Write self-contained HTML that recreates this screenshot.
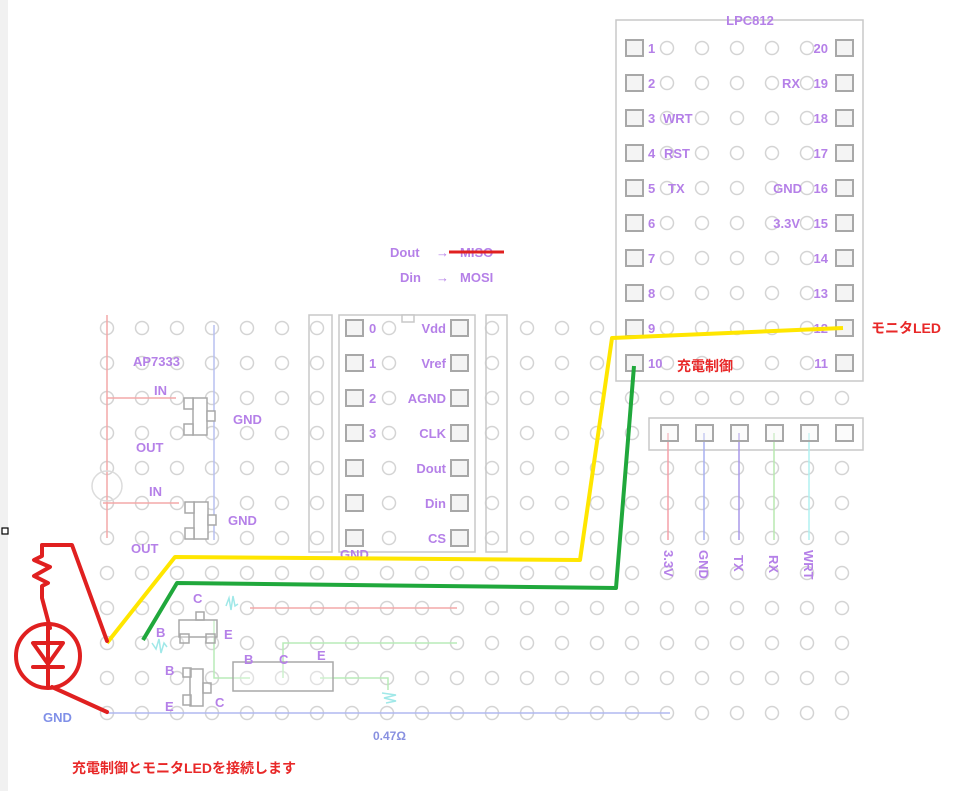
<!DOCTYPE html>
<html><head><meta charset="utf-8"><style>
html,body{margin:0;padding:0;background:#fff;}
svg{display:block;}
text{font-family:"Liberation Sans","Noto Sans CJK JP",sans-serif;}
.p{fill:#b580e8;font-weight:bold;font-size:13px;}
.r{fill:#e82828;font-weight:bold;font-size:14px;}
</style></head><body>
<svg width="980" height="791" viewBox="0 0 980 791" xmlns="http://www.w3.org/2000/svg">
<defs>
<pattern id="holes" patternUnits="userSpaceOnUse" x="89.5" y="310.5" width="35" height="35">
<circle cx="17.5" cy="17.5" r="6.5" fill="none" stroke="#d4d4d4" stroke-width="1.5"/>
</pattern>
</defs>
<rect x="0" y="0" width="8" height="791" fill="#f1f1f1"/>
<rect x="2" y="528" width="6" height="6" fill="#fff" stroke="#000" stroke-width="1.2"/>
<rect x="89.5" y="310.5" width="770" height="420" fill="url(#holes)"/>
<rect x="616" y="305" width="250" height="77" fill="#fff"/>
<rect x="338" y="305" width="138" height="248" fill="#fff"/>
<rect x="649" y="414" width="216" height="38" fill="#fff"/>
<rect x="651.5" y="30.5" width="175" height="350" fill="url(#holes)"/>
<g fill="none" stroke="#d4d4d4" stroke-width="1.5">
<circle cx="389" cy="328" r="6.5"/><circle cx="389" cy="363" r="6.5"/><circle cx="389" cy="398" r="6.5"/><circle cx="389" cy="433" r="6.5"/><circle cx="389" cy="468" r="6.5"/><circle cx="389" cy="503" r="6.5"/><circle cx="389" cy="538" r="6.5"/>
</g>
<!-- AP7333 area -->
<line x1="107" y1="315" x2="107" y2="538" stroke="#f4a8a8" stroke-width="1.5"/>
<line x1="107" y1="398" x2="176" y2="398" stroke="#f4a8a8" stroke-width="1.5"/>
<line x1="103" y1="503" x2="179" y2="503" stroke="#f4a8a8" stroke-width="1.5"/>
<line x1="214" y1="325" x2="214" y2="540" stroke="#b8c0f0" stroke-width="1.5"/>
<circle cx="107" cy="486" r="15" fill="none" stroke="#dcdcdc" stroke-width="1.5"/>
<g fill="#fff" stroke="#a8a8a8" stroke-width="1.5">
<rect x="193" y="398" width="14" height="37"/><rect x="184" y="398" width="9" height="11"/><rect x="184" y="424" width="9" height="11"/><rect x="207" y="411" width="8" height="10"/>
<rect x="194" y="502" width="14" height="37"/><rect x="185" y="502" width="9" height="11"/><rect x="185" y="528" width="9" height="11"/><rect x="208" y="515" width="8" height="10"/>
</g>
<text class="p" x="133" y="366">AP7333</text>
<text class="p" x="154" y="395">IN</text>
<text class="p" x="136" y="452">OUT</text>
<text class="p" x="233" y="424">GND</text>
<text class="p" x="149" y="496">IN</text>
<text class="p" x="131" y="553">OUT</text>
<text class="p" x="228" y="525">GND</text>
<!-- ADC chip -->
<g fill="none" stroke="#c8c8c8" stroke-width="1.5">
<rect x="309" y="315" width="23" height="237"/><rect x="486" y="315" width="21" height="237"/>
<rect x="339" y="315" width="136" height="237"/><rect x="402" y="315" width="12" height="7" fill="#fff"/>
</g>
<g fill="#f4f4f4" stroke="#a8a8a8" stroke-width="2">
<rect x="346" y="320" width="17" height="16"/><rect x="346" y="355" width="17" height="16"/><rect x="346" y="390" width="17" height="16"/><rect x="346" y="425" width="17" height="16"/><rect x="346" y="460" width="17" height="16"/><rect x="346" y="495" width="17" height="16"/><rect x="346" y="530" width="17" height="16"/>
<rect x="451" y="320" width="17" height="16"/><rect x="451" y="355" width="17" height="16"/><rect x="451" y="390" width="17" height="16"/><rect x="451" y="425" width="17" height="16"/><rect x="451" y="460" width="17" height="16"/><rect x="451" y="495" width="17" height="16"/><rect x="451" y="530" width="17" height="16"/>
</g>
<text class="p" x="369" y="333">0</text><text class="p" x="369" y="368">1</text><text class="p" x="369" y="403">2</text><text class="p" x="369" y="438">3</text>
<g class="p" text-anchor="end"><text x="446" y="333">Vdd</text><text x="446" y="368">Vref</text><text x="446" y="403">AGND</text><text x="446" y="438">CLK</text><text x="446" y="473">Dout</text><text x="446" y="508">Din</text><text x="446" y="543">CS</text></g>
<text class="p" x="340" y="559">GND</text>
<text class="p" x="390" y="257">Dout</text><text class="p" x="436" y="257">→</text><text class="p" x="460" y="257">MISO</text>
<text class="p" x="400" y="282">Din</text><text class="p" x="436" y="282">→</text><text class="p" x="460" y="282">MOSI</text>
<line x1="449" y1="252" x2="504" y2="252" stroke="#e02020" stroke-width="3"/>
<!-- LPC812 -->
<rect x="616" y="20" width="247" height="361" fill="none" stroke="#c8c8c8" stroke-width="1.5"/>
<text class="p" x="750" y="25" text-anchor="middle" font-weight="normal">LPC812</text>
<g fill="#f4f4f4" stroke="#a8a8a8" stroke-width="2">
<rect x="626" y="40" width="17" height="16"/><rect x="626" y="75" width="17" height="16"/><rect x="626" y="110" width="17" height="16"/><rect x="626" y="145" width="17" height="16"/><rect x="626" y="180" width="17" height="16"/><rect x="626" y="215" width="17" height="16"/><rect x="626" y="250" width="17" height="16"/><rect x="626" y="285" width="17" height="16"/><rect x="626" y="320" width="17" height="16"/><rect x="626" y="355" width="17" height="16"/>
<rect x="836" y="40" width="17" height="16"/><rect x="836" y="75" width="17" height="16"/><rect x="836" y="110" width="17" height="16"/><rect x="836" y="145" width="17" height="16"/><rect x="836" y="180" width="17" height="16"/><rect x="836" y="215" width="17" height="16"/><rect x="836" y="250" width="17" height="16"/><rect x="836" y="285" width="17" height="16"/><rect x="836" y="320" width="17" height="16"/><rect x="836" y="355" width="17" height="16"/>
</g>
<g class="p"><text x="648" y="53">1</text><text x="648" y="88">2</text><text x="648" y="123">3</text><text x="648" y="158">4</text><text x="648" y="193">5</text><text x="648" y="228">6</text><text x="648" y="263">7</text><text x="648" y="298">8</text><text x="648" y="333">9</text><text x="648" y="368">10</text>
<text x="663" y="123">WRT</text><text x="664" y="158">RST</text><text x="668" y="193">TX</text>
</g>
<g class="p" text-anchor="end"><text x="828" y="53">20</text><text x="828" y="88">19</text><text x="828" y="123">18</text><text x="828" y="158">17</text><text x="828" y="193">16</text><text x="828" y="228">15</text><text x="828" y="263">14</text><text x="828" y="298">13</text><text x="828" y="333">12</text><text x="828" y="368">11</text>
<text x="800" y="88">RX</text><text x="802" y="193">GND</text><text x="800" y="228">3.3V</text></g>
<!-- header -->
<rect x="649" y="418" width="214" height="32" fill="none" stroke="#c8c8c8" stroke-width="1.5"/>
<line x1="668" y1="433" x2="668" y2="540" stroke="#f4a0a8" stroke-width="1.5"/>
<line x1="704" y1="433" x2="704" y2="540" stroke="#a8b0f0" stroke-width="1.5"/>
<line x1="739" y1="433" x2="739" y2="540" stroke="#a898e8" stroke-width="1.5"/>
<line x1="774" y1="433" x2="774" y2="540" stroke="#b8e8b0" stroke-width="1.5"/>
<line x1="809" y1="433" x2="809" y2="540" stroke="#b0f0f0" stroke-width="1.5"/>
<g fill="#f4f4f4" fill-opacity="0.4" stroke="#a8a8a8" stroke-width="2">
<rect x="661" y="425" width="17" height="16"/><rect x="696" y="425" width="17" height="16"/><rect x="731" y="425" width="17" height="16"/><rect x="766" y="425" width="17" height="16"/><rect x="801" y="425" width="17" height="16"/><rect x="836" y="425" width="17" height="16"/>
</g>
<g class="p" font-size="12"><text transform="translate(664,550) rotate(90)">3.3V</text><text transform="translate(699,550) rotate(90)">GND</text><text transform="translate(734,555) rotate(90)">TX</text><text transform="translate(769,555) rotate(90)">RX</text><text transform="translate(804,550) rotate(90)">WRT</text></g>
<!-- bottom circuitry -->
<line x1="250" y1="608" x2="457" y2="608" stroke="#f4a8a8" stroke-width="1.5"/>
<path d="M283 678 V643 H457 M214 620 V678 H250 M320 678 H388 V690" fill="none" stroke="#b8ecb8" stroke-width="1.5"/>
<path d="M226 606 l3 -8 l2 12 l2 -14 l2 10 l3 -2" fill="none" stroke="#a0e8e8" stroke-width="1.5"/>
<path d="M152 643 l4 6 l3 -10 l2 14 l3 -10 l3 4" fill="none" stroke="#a0e8e8" stroke-width="1.5"/>
<path d="M382 693 l14 2 l-12 3 l12 3 l-10 2" fill="none" stroke="#a0e8e8" stroke-width="1.5"/>
<line x1="107" y1="713" x2="670" y2="713" stroke="#b0b8f0" stroke-width="1.5"/>
<g fill="#fff" fill-opacity="0.3" stroke="#a8a8a8" stroke-width="1.5">
<rect x="179" y="620" width="38" height="17"/><rect x="196" y="612" width="8" height="8"/><rect x="180" y="634" width="9" height="9"/><rect x="206" y="634" width="9" height="9"/>
<rect x="190" y="669" width="13" height="37"/><rect x="183" y="668" width="8" height="9"/><rect x="183" y="695" width="8" height="10"/><rect x="203" y="683" width="8" height="10"/>
<rect x="233" y="662" width="100" height="29"/>
</g>
<g class="p" font-weight="normal" font-size="14"><text x="193" y="603">C</text><text x="156" y="637">B</text><text x="224" y="639">E</text><text x="165" y="675">B</text><text x="165" y="711">E</text><text x="215" y="707">C</text><text x="244" y="664">B</text><text x="279" y="664">C</text><text x="317" y="660">E</text></g>
<text x="373" y="740" font-size="12" fill="#8890e0" font-weight="bold">0.47Ω</text>
<text x="43" y="722" font-size="13" fill="#8090e8" font-weight="bold">GND</text>
<!-- wires -->
<polyline points="107,643 175,557 580,560 612,338 843,328" fill="none" stroke="#ffe600" stroke-width="4" stroke-linejoin="round"/>
<polyline points="143,640 177,583 616,588 634,366" fill="none" stroke="#20a83c" stroke-width="4" stroke-linejoin="round"/>
<g fill="none" stroke="#e02020" stroke-width="4" stroke-linecap="round" stroke-linejoin="round">
<polyline points="107,641 72,545 42,545 42,556 34,560 50,567 34,576 48,583 42,586 42,598 50,628"/>
<circle cx="48" cy="656" r="32"/>
<polygon points="33,643 63,643 48,664"/>
<line x1="33" y1="667" x2="63" y2="667"/>
<line x1="48" y1="624" x2="48" y2="687"/>
<line x1="52" y1="687" x2="107" y2="712"/>
</g>
<text class="r" x="677" y="371">充電制御</text>
<text class="r" x="871" y="333">モニタLED</text>
<text class="r" x="72" y="773">充電制御とモニタLEDを接続します</text>
</svg>
</body></html>
